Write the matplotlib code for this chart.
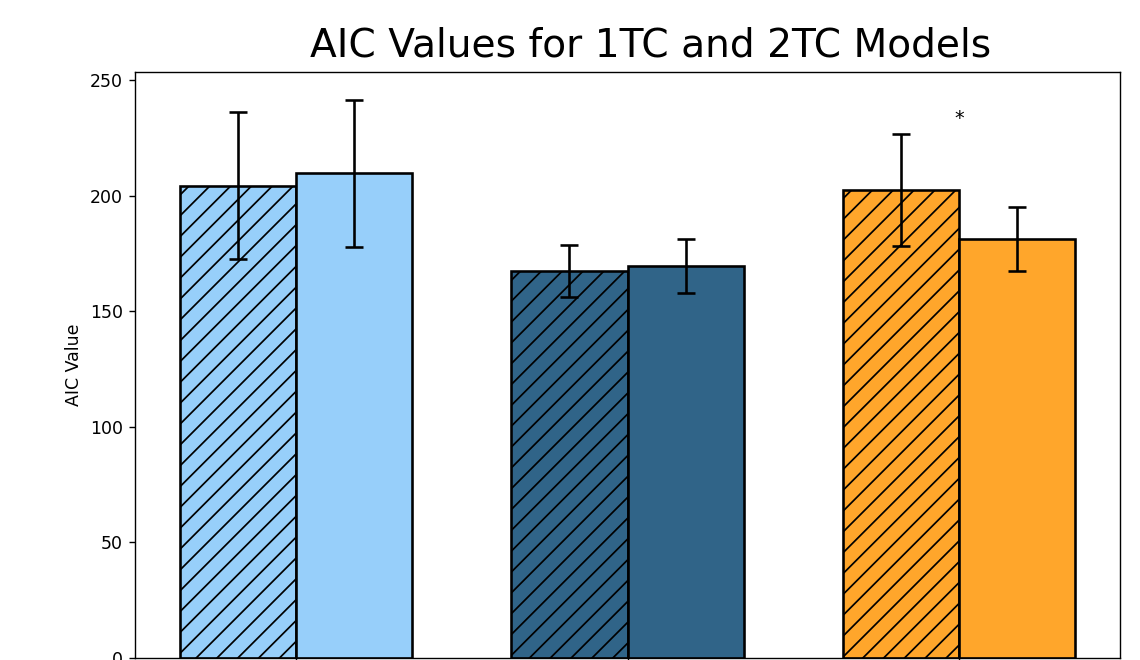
import numpy as np
import matplotlib.pyplot as plt


# mean AIC per group, 1TC (hatched) vs 2TC (plain)
groups = ["Group 1", "Group 2", "Group 3"]
aic_1tc = [204.2, 167.4, 202.4]
aic_2tc = [209.6, 169.4, 181.2]
err_1tc = [31.8, 11.2, 24.4]
err_2tc = [31.8, 11.7, 13.8]
colors = ["#97cffa", "#306488", "#ffa62b"]

# significance marker above the third group
star_group = 2
star_y = 233.5

x = np.arange(len(groups))
width = 0.35

fig = plt.figure(figsize=(9.12, 5.28), dpi=125)
ax = fig.add_axes([135 / 1140, 2 / 660, 985 / 1140, 586 / 660])

ax.bar(x - width / 2, aic_1tc, width, yerr=err_1tc, color=colors,
       edgecolor="black", linewidth=1.5, hatch="//", capsize=5,
       error_kw=dict(elinewidth=1.5, capthick=1.5))
ax.bar(x + width / 2, aic_2tc, width, yerr=err_2tc, color=colors,
       edgecolor="black", linewidth=1.5, capsize=5,
       error_kw=dict(elinewidth=1.5, capthick=1.5))

ax.text(x[star_group], star_y, "*", ha="center", va="center", fontsize=11)

ax.set_xticks(x)
ax.set_xticklabels([])
ax.set_ylabel("AIC Value")
ax.set_title("AIC Values for 1TC and 2TC Models", fontsize=22.5, x=0.523, pad=9)

plt.savefig("out.png", dpi=125)
